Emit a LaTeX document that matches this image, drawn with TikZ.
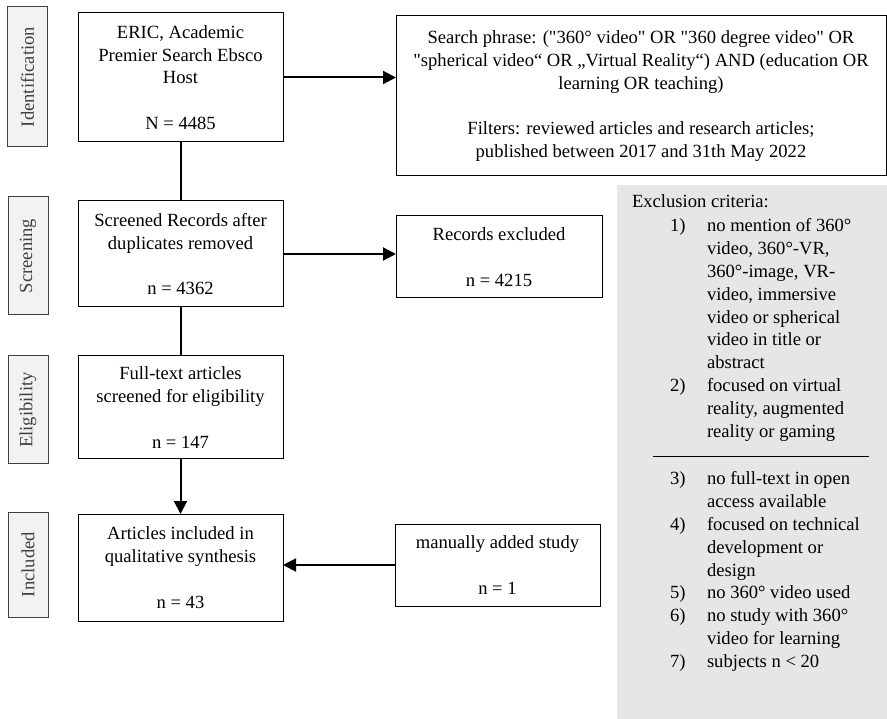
\documentclass[tikz,border=0pt]{standalone}
\usepackage{fontspec}
\setmainfont{Liberation Serif}
\newfontfamily\plainserif{Liberation Serif}
\usetikzlibrary{arrows.meta}
\definecolor{labelfill}{HTML}{F2F2F2}
\definecolor{labeldraw}{HTML}{404040}
\definecolor{exfill}{HTML}{E6E6E6}
\begin{document}
\begin{tikzpicture}[x=1pt,y=-1pt,
  every node/.style={font=\plainserif\fontsize{18.6}{22.8}\selectfont, inner sep=0pt, outer sep=0pt},
  flowbox/.style={draw=black, line width=1pt, fill=white, align=center},
  phasebox/.style={draw=labeldraw, line width=1pt, fill=labelfill, text=labeldraw, minimum width=40pt},
  phasetext/.style={rotate=90, text=labeldraw},
  link/.style={line width=2pt, draw=black},
  arr/.style={link, -{Triangle[length=13pt,width=13pt]}}
]
\useasboundingbox (0,0) rectangle (887,719);

% phase labels
\node[phasebox, minimum height=140pt] (ident) at (27.5,77) {};
\node[phasetext] at (ident.center) {Identification};
\node[phasebox, minimum height=118pt] (screen) at (28,256) {};
\node[phasetext] at (screen.center) {Screening};
\node[phasebox, minimum height=108pt] (elig) at (28,410) {};
\node[phasetext] at (elig.center) {Eligibility};
\node[phasebox, minimum height=105pt] (incl) at (28,564.5) {};
\node[phasetext] at (incl.center) {Included};

% exclusion criteria panel
\fill[exfill] (617,185) rectangle (887,719);
\node[anchor=base west] (exhead) at (632,208) {Exclusion criteria:};
\node[anchor=base west] (exlistA) at (670,232) {\begin{tabular}[t]{@{}p{37pt}@{}l@{}}
1) & no mention of 360° \\
   & video, 360°-VR, \\
   & 360°-image, VR- \\
   & video, immersive \\
   & video or spherical \\
   & video in title or \\
   & abstract \\
2) & focused on virtual \\
   & reality, augmented \\
   & reality or gaming
\end{tabular}};
\draw[line width=1pt] (653,457) -- (869,457);
\node[anchor=base west] (exlistB) at (670,485) {\begin{tabular}[t]{@{}p{37pt}@{}l@{}}
3) & no full-text in open \\
   & access available \\
4) & focused on technical \\
   & development or \\
   & design \\
5) & no 360° video used \\
6) & no study with 360° \\
   & video for learning \\
7) & subjects n < 20
\end{tabular}};

% flow boxes
\node[flowbox, minimum width=205pt, minimum height=129pt] (eric) at (180.5,77.5)
  {ERIC, Academic\\Premier Search Ebsco\\Host\\[22.8pt]N = 4485};
\node[flowbox, minimum width=490pt, minimum height=160pt] (search) at (641,96)
  {Search phrase: ("360° video" OR "360 degree video" OR\\"spherical video“ OR „Virtual Reality“) AND (education OR\\learning OR teaching)\\[22.8pt]Filters: reviewed articles and research articles;\\published between 2017 and 31th May 2022};
\node[flowbox, minimum width=205pt, minimum height=106pt] (screened) at (180.5,254)
  {Screened Records after\\duplicates removed\\[22.8pt]n = 4362};
\node[flowbox, minimum width=206pt, minimum height=82pt] (records) at (499,257)
  {Records excluded\\[22.8pt]n = 4215};
\node[flowbox, minimum width=205pt, minimum height=103pt] (fulltext) at (180.5,407.5)
  {Full-text articles\\screened for eligibility\\[22.8pt]n = 147};
\node[flowbox, minimum width=205pt, minimum height=107pt] (articles) at (180.5,567.5)
  {Articles included in\\qualitative synthesis\\[22.8pt]n = 43};
\node[flowbox, minimum width=205pt, minimum height=82pt] (manual) at (497.5,565)
  {manually added study\\[22.8pt]n = 1};

% connectors
\draw[arr] (eric.east) -- (eric.east -| search.west);
\draw[link] (eric.south) -- (screened.north);
\draw[arr] (screened.east) -- (screened.east -| records.west);
\draw[link] (screened.south) -- (fulltext.north);
\draw[arr] (fulltext.south) -- (articles.north);
\draw[arr] (manual.west) -- (manual.west -| articles.east);
\end{tikzpicture}
\end{document}
